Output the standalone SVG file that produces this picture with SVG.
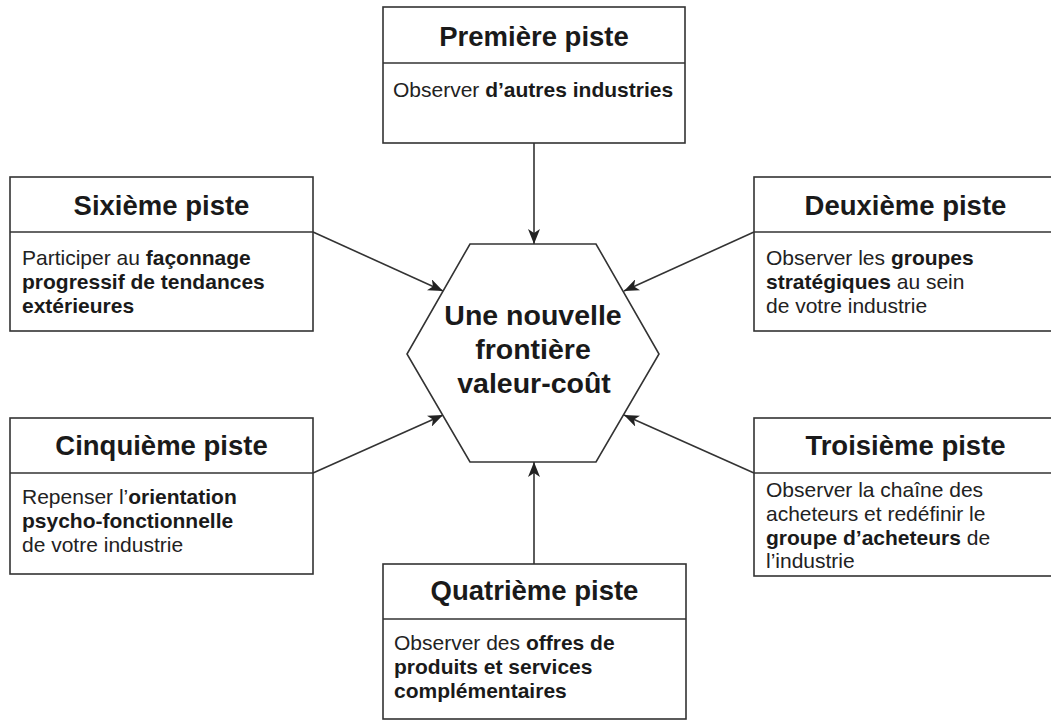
<svg xmlns="http://www.w3.org/2000/svg" width="1051" height="720" viewBox="0 0 1051 720">
<style>
.box{fill:#fff;stroke:#333;stroke-width:1.6}
.div{stroke:#333;stroke-width:1.6}
.title{font-family:"Liberation Sans",Arial,sans-serif;font-weight:bold;font-size:27.5px;fill:#1a1a1a;text-anchor:middle}
.body{font-family:"Liberation Sans",Arial,sans-serif;font-size:21px;fill:#222}
.b{font-weight:bold;fill:#1a1a1a}
.hex{fill:#fff;stroke:#333;stroke-width:1.6}
.hext{font-family:"Liberation Sans",Arial,sans-serif;font-weight:bold;font-size:28.5px;fill:#1a1a1a;text-anchor:middle}
.con{stroke:#333;stroke-width:1.6;fill:none;marker-end:url(#arr)}
</style>
<defs>
<marker id="arr" markerUnits="userSpaceOnUse" markerWidth="16" markerHeight="12" viewBox="0 0 16 12" refX="15" refY="6" orient="auto">
<path d="M0,0 L15,6 L0,12 L4,6 z" fill="#222"/>
</marker>
</defs>
<rect width="1051" height="720" fill="#fff"/>

<g id="connectors">
<line class="con" x1="534" y1="143" x2="534" y2="244"/>
<line class="con" x1="534" y1="564" x2="534" y2="462"/>
<line class="con" x1="313" y1="232" x2="443" y2="291"/>
<line class="con" x1="754" y1="232" x2="624" y2="291"/>
<line class="con" x1="313" y1="473" x2="443" y2="415"/>
<line class="con" x1="754" y1="473" x2="624" y2="415"/>
</g>

<g id="center">
<polygon class="hex" points="470,244 596,244 659,354 596,462 470,462 407,354"/>
<text class="hext" x="533" y="325">Une nouvelle</text>
<text class="hext" x="533" y="359">frontière</text>
<text class="hext" x="534" y="393">valeur-coût</text>
</g>

<g id="piste1">
<rect class="box" x="383" y="7" width="302" height="136"/>
<line class="div" x1="383" y1="63" x2="685" y2="63"/>
<text class="title" x="534" y="46">Première piste</text>
<text class="body" x="393" y="97">Observer <tspan class="b">d’autres industries</tspan></text>
</g>

<g id="piste6">
<rect class="box" x="10" y="177" width="303" height="154"/>
<line class="div" x1="10" y1="232" x2="313" y2="232"/>
<text class="title" x="161.5" y="215">Sixième piste</text>
<text class="body" x="22" y="265">Participer au <tspan class="b">façonnage</tspan></text>
<text class="body b" x="22" y="289">progressif de tendances</text>
<text class="body b" x="22" y="313">extérieures</text>
</g>

<g id="piste2">
<rect class="box" x="754" y="177" width="303" height="154"/>
<line class="div" x1="754" y1="232" x2="1057" y2="232"/>
<text class="title" x="905.5" y="215">Deuxième piste</text>
<text class="body" x="766" y="265">Observer les <tspan class="b">groupes</tspan></text>
<text class="body" x="766" y="289"><tspan class="b">stratégiques</tspan> au sein</text>
<text class="body" x="766" y="313">de votre industrie</text>
</g>

<g id="piste5">
<rect class="box" x="10" y="418" width="303" height="156"/>
<line class="div" x1="10" y1="473" x2="313" y2="473"/>
<text class="title" x="161.5" y="455">Cinquième piste</text>
<text class="body" x="22" y="504">Repenser l’<tspan class="b">orientation</tspan></text>
<text class="body b" x="22" y="528">psycho-fonctionnelle</text>
<text class="body" x="22" y="552">de votre industrie</text>
</g>

<g id="piste3">
<rect class="box" x="754" y="418" width="303" height="158"/>
<line class="div" x1="754" y1="473" x2="1057" y2="473"/>
<text class="title" x="905.5" y="455">Troisième piste</text>
<text class="body" x="766" y="497">Observer la chaîne des</text>
<text class="body" x="766" y="521">acheteurs et redéfinir le</text>
<text class="body" x="766" y="545"><tspan class="b">groupe d’acheteurs</tspan> de</text>
<text class="body" x="766" y="568">l’industrie</text>
</g>

<g id="piste4">
<rect class="box" x="383" y="564" width="303" height="155"/>
<line class="div" x1="383" y1="619" x2="686" y2="619"/>
<text class="title" x="534.5" y="600">Quatrième piste</text>
<text class="body" x="394" y="650">Observer des <tspan class="b">offres de</tspan></text>
<text class="body b" x="394" y="674">produits et services</text>
<text class="body b" x="394" y="698">complémentaires</text>
</g>
</svg>
